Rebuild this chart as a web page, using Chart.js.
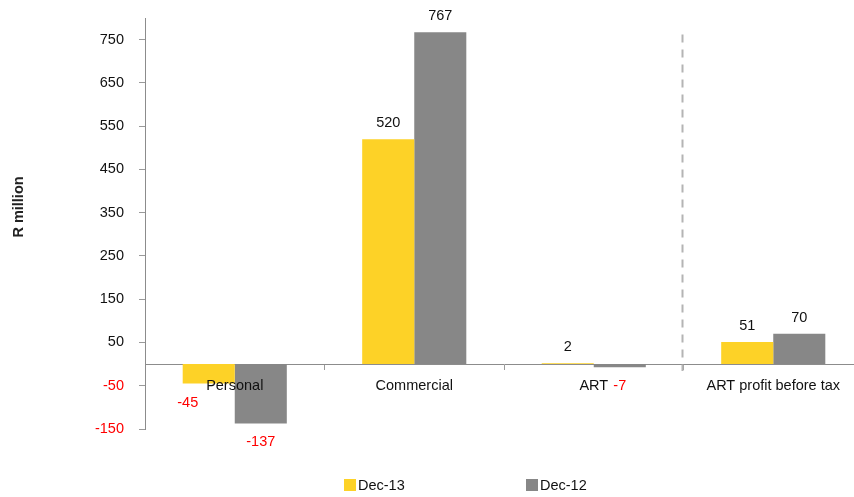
<!DOCTYPE html>
<html>
<head>
<meta charset="utf-8">
<script src="https://cdn.jsdelivr.net/npm/chart.js@4"></script>
<style>
  html, body { margin: 0; padding: 0; background: #fff; overflow: hidden; }
  #wrap { width: 870px; height: 497px; position: relative; }
</style>
</head>
<body>
<div id="wrap"><canvas id="chart"></canvas></div>
<script>
const categories = ['Personal', 'Commercial', 'ART', 'ART profit before tax'];
const seriesNames = ['Dec-13', 'Dec-12'];
const dec13 = [-45, 520, 2, 51];
const dec12 = [-137, 767, -7, 70];
const yTicks = [-150, -50, 50, 150, 250, 350, 450, 550, 650, 750];
const yMin = -150;
const yMax = 800;
const dividerAfter = 2; // dashed separator after "ART"
const yTitle = 'R million';

const FONT = "'Liberation Sans', Arial, sans-serif";
const FS = 14.5;
const RED = '#ff0000';
const TEXT = '#111111';
const YELLOW = '#fdd227';
const GREY = '#878787';

// value labels above / below each bar
const valueLabels = {
  id: 'valueLabels',
  afterDatasetsDraw(chart) {
    const ctx = chart.ctx;
    ctx.save();
    ctx.font = FS + 'px ' + FONT;
    ctx.textAlign = 'center';
    ctx.textBaseline = 'middle';
    chart.data.datasets.forEach((ds, di) => {
      chart.getDatasetMeta(di).data.forEach((bar, i) => {
        const v = ds.data[i];
        const neg = v < 0;
        // first negative label is pushed left so it clears "Personal"
        const dx = (neg && di === 0 && i === 0) ? -21 : 0;
        ctx.fillStyle = neg ? RED : TEXT;
        ctx.fillText(String(v), bar.x + dx, neg ? bar.y + 19 : bar.y - 16);
      });
    });
    ctx.restore();
  }
};

const divider = {
  id: 'divider',
  beforeDatasetsDraw(chart) {
    const { ctx, scales: { x, y } } = chart;
    const px = (x.getPixelForValue(dividerAfter) + x.getPixelForValue(dividerAfter + 1)) / 2 - 1;
    ctx.save();
    ctx.strokeStyle = '#b4b4b4';
    ctx.lineWidth = 2;
    ctx.setLineDash([8, 7]);
    ctx.beginPath();
    ctx.moveTo(px, y.getPixelForValue(762));
    ctx.lineTo(px, y.getPixelForValue(0) + 7);
    ctx.stroke();
    ctx.restore();
  }
};

// y title, legend row
const extras = {
  id: 'extras',
  afterDraw(chart) {
    const ctx = chart.ctx;
    ctx.save();
    ctx.fillStyle = '#222';
    ctx.font = 'bold ' + FS + 'px ' + FONT;
    ctx.textAlign = 'center';
    ctx.textBaseline = 'middle';
    ctx.translate(19, 207);
    ctx.rotate(-Math.PI / 2);
    ctx.fillText(yTitle, 0, 0);
    ctx.restore();

    ctx.save();
    ctx.font = FS + 'px ' + FONT;
    ctx.textAlign = 'left';
    ctx.textBaseline = 'middle';
    chart.data.datasets.forEach((ds, i) => {
      const x = 344 + i * 182;
      const y = 485;
      ctx.fillStyle = ds.backgroundColor;
      ctx.fillRect(x, y - 6, 12, 12);
      ctx.fillStyle = TEXT;
      ctx.fillText(ds.label, x + 14, y + 1);
    });
    ctx.restore();
  }
};

new Chart(document.getElementById('chart'), {
  type: 'bar',
  data: {
    labels: categories,
    datasets: [
      { label: seriesNames[0], data: dec13, backgroundColor: YELLOW },
      { label: seriesNames[1], data: dec12, backgroundColor: GREY }
    ]
  },
  options: {
    responsive: true,
    maintainAspectRatio: false,
    animation: false,
    datasets: { bar: { categoryPercentage: 0.58, barPercentage: 1 } },
    layout: { padding: { top: 18, bottom: 68, left: 0, right: 7 } },
    plugins: {
      legend: { display: false },
      tooltip: { enabled: false }
    },
    scales: {
      x: {
        position: { y: 0 },
        grid: { offset: true, drawOnChartArea: false, tickLength: 5, tickColor: '#9a9a9a' },
        border: { color: '#8c8c8c' },
        ticks: { z: 1, font: { family: FONT, size: FS }, color: TEXT, padding: 8, maxRotation: 0, autoSkip: false }
      },
      y: {
        min: yMin,
        max: yMax,
        afterBuildTicks: s => { s.ticks = yTicks.map(v => ({ value: v })); },
        afterFit: s => { s.width = 145; s.paddingTop = 0; s.paddingBottom = 0; },
        grid: { drawOnChartArea: false, tickLength: 6, tickColor: '#9a9a9a' },
        border: { color: '#8c8c8c' },
        ticks: {
          font: { family: FONT, size: FS },
          color: c => (c.tick && c.tick.value < 0) ? RED : TEXT,
          padding: 15
        }
      }
    }
  },
  plugins: [divider, valueLabels, extras]
});
</script>
</body>
</html>
